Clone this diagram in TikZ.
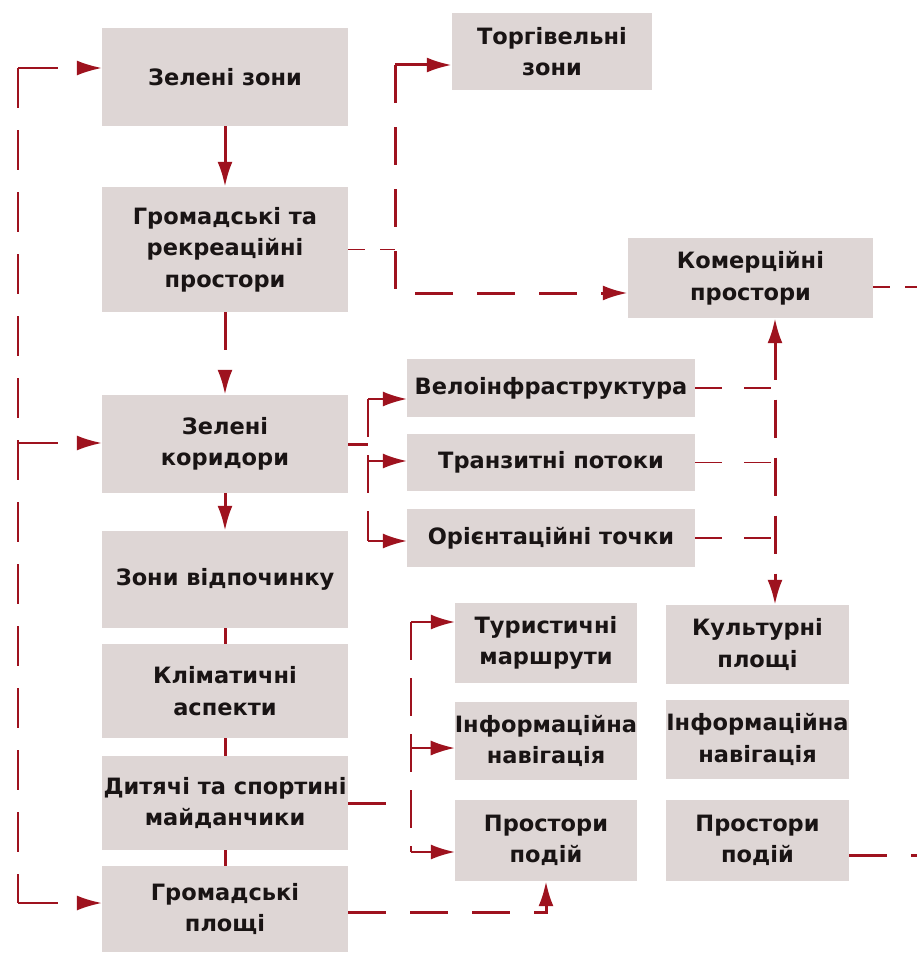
\documentclass[tikz,border=0pt]{standalone}
\usepackage{fontspec}
\setmainfont{DejaVu Sans}
\usetikzlibrary{arrows.meta}
\definecolor{boxfill}{RGB}{222,214,213}
\definecolor{arrred}{RGB}{158,18,30}
\definecolor{txt}{RGB}{25,20,20}
\begin{document}
\begin{tikzpicture}[x=1pt,y=-1pt,
 box/.style={fill=boxfill, draw=none, inner sep=0pt, align=center, text=txt, font=\fontsize{22.5}{31.5}\selectfont\bfseries},
 arr/.style={-{Latex[length=25pt,width=15pt]}},
 sarr/.style={-{Latex[length=24pt,width=15pt]}},
 thickdash/.style={draw=arrred, line width=3pt, dash pattern=on 38pt off 24pt},
 loopdash/.style={draw=arrred, line width=2pt, dash pattern=on 40pt off 22pt},
 thindash/.style={draw=arrred, line width=1.5pt, dash pattern=on 27pt off 22pt},
 shortdash/.style={draw=arrred, line width=1.5pt, dash pattern=on 17pt off 15pt},
 solidline/.style={draw=arrred, line width=3pt},
 branchline/.style={draw=arrred, line width=1.8pt},
 branch/.style={draw=arrred, line width=1.8pt, dash pattern=on 38pt off 18pt},
 vdash/.style={draw=arrred, line width=3pt, dash pattern=on 38pt off 20pt},
]
\useasboundingbox (0,0) rectangle (917,958);
\fill[white] (0,0) rectangle (917,958);

% left column
\node[box, minimum width=246pt, minimum height=98pt] (gz) at (225,77) {Зелені зони};
\node[box, minimum width=246pt, minimum height=125pt] (grp) at (225,249.5) {Громадські та\\рекреаційні\\простори};
\node[box, minimum width=246pt, minimum height=98pt] (gk) at (225,444) {Зелені\\коридори};
\node[box, minimum width=246pt, minimum height=97pt] (zv) at (225,579.5) {Зони відпочинку};
\node[box, minimum width=246pt, minimum height=94pt] (ka) at (225,691) {Кліматичні\\аспекти};
\node[box, minimum width=246pt, minimum height=94pt] (dsm) at (225,803) {Дитячі та спортині\\майданчики};
\node[box, minimum width=246pt, minimum height=86pt] (gp) at (225,909) {Громадські\\площі};

% top right
\node[box, minimum width=200pt, minimum height=77pt] (tz) at (552,51.5) {Торгівельні\\зони};
\node[box, minimum width=245pt, minimum height=80pt] (kp) at (750.5,278) {Комерційні\\простори};

% middle
\node[box, minimum width=288pt, minimum height=58pt] (vi) at (551,388) {Велоінфраструктура};
\node[box, minimum width=288pt, minimum height=57pt] (tp) at (551,462.5) {Транзитні потоки};
\node[box, minimum width=288pt, minimum height=58pt] (ot) at (551,538) {Орієнтаційні точки};

% bottom middle
\node[box, minimum width=182pt, minimum height=80pt] (tm) at (546,643) {Туристичні\\маршрути};
\node[box, minimum width=182pt, minimum height=78pt] (in1) at (546,741) {Інформаційна\\навігація};
\node[box, minimum width=182pt, minimum height=81pt] (pp1) at (546,840.5) {Простори\\подій};

% bottom right
\node[box, minimum width=183pt, minimum height=79pt] (kpl) at (757.5,644.5) {Культурні\\площі};
\node[box, minimum width=183pt, minimum height=79pt] (in2) at (757.5,739.5) {Інформаційна\\навігація};
\node[box, minimum width=183pt, minimum height=81pt] (pp2) at (757.5,840.5) {Простори\\подій};

% left loop
\coordinate (L1) at (18,68);
\coordinate (L2) at (18,443);
\coordinate (L3) at (18,903);
\draw[loopdash] (L1) -- (L3);
\draw[loopdash,arr] (L1) -- (L1 -| gz.west);
\draw[loopdash,arr] (L2) -- (L2 -| gk.west);
\draw[loopdash,arr] (L3) -- (L3 -| gp.west);

% vertical chain
\draw[solidline,arr] (gz.south) -- (grp.north);
\draw[thickdash,arr] (grp.south) -- (gk.north);
\draw[solidline,arr] (gk.south) -- (zv.north);
\draw[solidline] (zv.south) -- (ka.north);
\draw[solidline] (ka.south) -- (dsm.north);
\draw[solidline] (dsm.south) -- (gp.north);

% from grp to trade and commercial
\coordinate (B1) at (395,249.5);
\coordinate (Btop) at (395,65);
\coordinate (Bbot) at (395,293);
\draw[shortdash] (grp.east) -- (B1);
\draw[solidline,arr] (Btop) -- (Btop -| tz.west);
\draw[thickdash,arr] (Btop) -- (Bbot) -- (Bbot -| kp.west);
\coordinate (KR) at (917,287);
\draw[shortdash] (KR -| kp.east) -- (KR);

% from green corridors to three
\coordinate (C1) at (368,444);
\coordinate (Ctop) at (368,399);
\coordinate (Cmid) at (368,461);
\coordinate (Cbot) at (368,541);
\draw[thickdash] (gk.east) -- (C1);
\draw[branch] (Ctop) -- (Cbot);
\draw[branchline,sarr] (Ctop) -- (Ctop -| vi.west);
\draw[branchline,sarr] (Cmid) -- (Cmid -| tp.west);
\draw[branchline,sarr] (Cbot) -- (Cbot -| ot.west);

% right collector
\coordinate (V) at (775,0);
\draw[thindash] (vi.east) -- (vi.east -| V);
\draw[thindash] (tp.east) -- (tp.east -| V);
\draw[thindash] (ot.east) -- (ot.east -| V);
\draw[vdash,{Latex[length=25pt,width=15pt]}-{Latex[length=25pt,width=15pt]}] (kp.south -| V) -- (kpl.north -| V);

% from playgrounds to three
\coordinate (D1) at (411,803);
\coordinate (Dtop) at (411,622);
\coordinate (Dmid) at (411,748);
\coordinate (Dbot) at (411,852);
\draw[thickdash] (dsm.east) -- (D1);
\draw[branch] (Dtop) -- (Dbot);
\draw[branchline,sarr] (Dtop) -- (Dtop -| tm.west);
\draw[branchline,sarr] (Dmid) -- (Dmid -| in1.west);
\draw[branchline,sarr] (Dbot) -- (Dbot -| pp1.west);

% from public squares to events
\coordinate (E1) at (546,912);
\draw[thickdash,arr] (E1 -| gp.east) -- (E1) -- (pp1.south);

% events right
\coordinate (PR) at (917,855);
\draw[thickdash] (PR -| pp2.east) -- (PR);
\end{tikzpicture}
\end{document}
